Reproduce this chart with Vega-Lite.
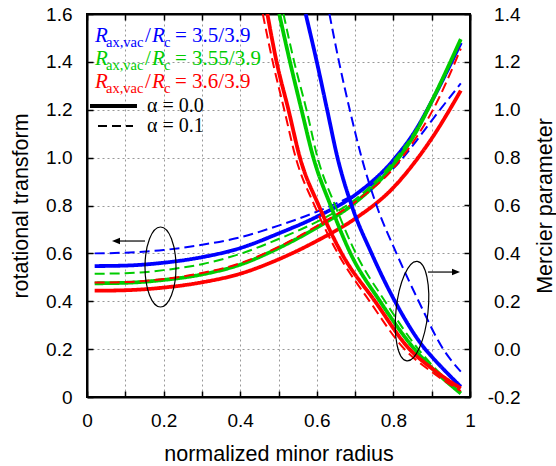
{
  "$schema": "https://vega.github.io/schema/vega-lite/v6.json",
  "width": 383,
  "height": 383,
  "autosize": {"type": "none"},
  "padding": {"left": 87, "top": 14, "right": 86, "bottom": 69},
  "background": "white",
  "datasets": {
    "iota": [
      {"case": "3.5/3.9", "alpha": "0.0", "r": 0.02, "iota": 0.547},
      {"case": "3.5/3.9", "alpha": "0.0", "r": 0.1, "iota": 0.549},
      {"case": "3.5/3.9", "alpha": "0.0", "r": 0.2, "iota": 0.561},
      {"case": "3.5/3.9", "alpha": "0.0", "r": 0.3, "iota": 0.584},
      {"case": "3.5/3.9", "alpha": "0.0", "r": 0.4, "iota": 0.622},
      {"case": "3.5/3.9", "alpha": "0.0", "r": 0.5, "iota": 0.683},
      {"case": "3.5/3.9", "alpha": "0.0", "r": 0.6, "iota": 0.753},
      {"case": "3.5/3.9", "alpha": "0.0", "r": 0.7, "iota": 0.844},
      {"case": "3.5/3.9", "alpha": "0.0", "r": 0.8, "iota": 0.99},
      {"case": "3.5/3.9", "alpha": "0.0", "r": 0.86, "iota": 1.12},
      {"case": "3.5/3.9", "alpha": "0.0", "r": 0.9, "iota": 1.235},
      {"case": "3.5/3.9", "alpha": "0.0", "r": 0.976, "iota": 1.48},
      {"case": "3.5/3.9", "alpha": "0.1", "r": 0.02, "iota": 0.6},
      {"case": "3.5/3.9", "alpha": "0.1", "r": 0.1, "iota": 0.603},
      {"case": "3.5/3.9", "alpha": "0.1", "r": 0.2, "iota": 0.614},
      {"case": "3.5/3.9", "alpha": "0.1", "r": 0.3, "iota": 0.636},
      {"case": "3.5/3.9", "alpha": "0.1", "r": 0.4, "iota": 0.667},
      {"case": "3.5/3.9", "alpha": "0.1", "r": 0.5, "iota": 0.716},
      {"case": "3.5/3.9", "alpha": "0.1", "r": 0.6, "iota": 0.774},
      {"case": "3.5/3.9", "alpha": "0.1", "r": 0.7, "iota": 0.848},
      {"case": "3.5/3.9", "alpha": "0.1", "r": 0.8, "iota": 0.955},
      {"case": "3.5/3.9", "alpha": "0.1", "r": 0.86, "iota": 1.07},
      {"case": "3.5/3.9", "alpha": "0.1", "r": 0.9, "iota": 1.155},
      {"case": "3.5/3.9", "alpha": "0.1", "r": 0.976, "iota": 1.31},
      {"case": "3.55/3.9", "alpha": "0.0", "r": 0.02, "iota": 0.475},
      {"case": "3.55/3.9", "alpha": "0.0", "r": 0.1, "iota": 0.477},
      {"case": "3.55/3.9", "alpha": "0.0", "r": 0.2, "iota": 0.489},
      {"case": "3.55/3.9", "alpha": "0.0", "r": 0.3, "iota": 0.512},
      {"case": "3.55/3.9", "alpha": "0.0", "r": 0.4, "iota": 0.553},
      {"case": "3.55/3.9", "alpha": "0.0", "r": 0.5, "iota": 0.622},
      {"case": "3.55/3.9", "alpha": "0.0", "r": 0.6, "iota": 0.708},
      {"case": "3.55/3.9", "alpha": "0.0", "r": 0.7, "iota": 0.812},
      {"case": "3.55/3.9", "alpha": "0.0", "r": 0.8, "iota": 0.97},
      {"case": "3.55/3.9", "alpha": "0.0", "r": 0.86, "iota": 1.11},
      {"case": "3.55/3.9", "alpha": "0.0", "r": 0.9, "iota": 1.235},
      {"case": "3.55/3.9", "alpha": "0.0", "r": 0.976, "iota": 1.495},
      {"case": "3.55/3.9", "alpha": "0.1", "r": 0.02, "iota": 0.515},
      {"case": "3.55/3.9", "alpha": "0.1", "r": 0.1, "iota": 0.517},
      {"case": "3.55/3.9", "alpha": "0.1", "r": 0.2, "iota": 0.53},
      {"case": "3.55/3.9", "alpha": "0.1", "r": 0.3, "iota": 0.555},
      {"case": "3.55/3.9", "alpha": "0.1", "r": 0.4, "iota": 0.598},
      {"case": "3.55/3.9", "alpha": "0.1", "r": 0.5, "iota": 0.66},
      {"case": "3.55/3.9", "alpha": "0.1", "r": 0.6, "iota": 0.732},
      {"case": "3.55/3.9", "alpha": "0.1", "r": 0.7, "iota": 0.825},
      {"case": "3.55/3.9", "alpha": "0.1", "r": 0.8, "iota": 0.985},
      {"case": "3.55/3.9", "alpha": "0.1", "r": 0.86, "iota": 1.12},
      {"case": "3.55/3.9", "alpha": "0.1", "r": 0.9, "iota": 1.24},
      {"case": "3.55/3.9", "alpha": "0.1", "r": 0.976, "iota": 1.49},
      {"case": "3.6/3.9", "alpha": "0.0", "r": 0.02, "iota": 0.444},
      {"case": "3.6/3.9", "alpha": "0.0", "r": 0.1, "iota": 0.446},
      {"case": "3.6/3.9", "alpha": "0.0", "r": 0.2, "iota": 0.457},
      {"case": "3.6/3.9", "alpha": "0.0", "r": 0.3, "iota": 0.479},
      {"case": "3.6/3.9", "alpha": "0.0", "r": 0.4, "iota": 0.515},
      {"case": "3.6/3.9", "alpha": "0.0", "r": 0.5, "iota": 0.575},
      {"case": "3.6/3.9", "alpha": "0.0", "r": 0.6, "iota": 0.652},
      {"case": "3.6/3.9", "alpha": "0.0", "r": 0.7, "iota": 0.745},
      {"case": "3.6/3.9", "alpha": "0.0", "r": 0.8, "iota": 0.875},
      {"case": "3.6/3.9", "alpha": "0.0", "r": 0.86, "iota": 0.99},
      {"case": "3.6/3.9", "alpha": "0.0", "r": 0.9, "iota": 1.08},
      {"case": "3.6/3.9", "alpha": "0.0", "r": 0.976, "iota": 1.28},
      {"case": "3.6/3.9", "alpha": "0.1", "r": 0.02, "iota": 0.478},
      {"case": "3.6/3.9", "alpha": "0.1", "r": 0.1, "iota": 0.48},
      {"case": "3.6/3.9", "alpha": "0.1", "r": 0.2, "iota": 0.493},
      {"case": "3.6/3.9", "alpha": "0.1", "r": 0.3, "iota": 0.518},
      {"case": "3.6/3.9", "alpha": "0.1", "r": 0.4, "iota": 0.559},
      {"case": "3.6/3.9", "alpha": "0.1", "r": 0.5, "iota": 0.627},
      {"case": "3.6/3.9", "alpha": "0.1", "r": 0.6, "iota": 0.714},
      {"case": "3.6/3.9", "alpha": "0.1", "r": 0.7, "iota": 0.815},
      {"case": "3.6/3.9", "alpha": "0.1", "r": 0.8, "iota": 0.955},
      {"case": "3.6/3.9", "alpha": "0.1", "r": 0.86, "iota": 1.085},
      {"case": "3.6/3.9", "alpha": "0.1", "r": 0.9, "iota": 1.19},
      {"case": "3.6/3.9", "alpha": "0.1", "r": 0.976, "iota": 1.455}
    ],
    "mercier": [
      {"case": "3.5/3.9", "alpha": "0.0", "r": 0.571, "m": 1.4},
      {"case": "3.5/3.9", "alpha": "0.0", "r": 0.6, "m": 1.2},
      {"case": "3.5/3.9", "alpha": "0.0", "r": 0.627, "m": 1.0},
      {"case": "3.5/3.9", "alpha": "0.0", "r": 0.654, "m": 0.8},
      {"case": "3.5/3.9", "alpha": "0.0", "r": 0.691, "m": 0.6},
      {"case": "3.5/3.9", "alpha": "0.0", "r": 0.743, "m": 0.4},
      {"case": "3.5/3.9", "alpha": "0.0", "r": 0.804, "m": 0.2},
      {"case": "3.5/3.9", "alpha": "0.0", "r": 0.883, "m": 0.0},
      {"case": "3.5/3.9", "alpha": "0.0", "r": 0.9, "m": -0.031},
      {"case": "3.5/3.9", "alpha": "0.0", "r": 0.976, "m": -0.157},
      {"case": "3.5/3.9", "alpha": "0.1", "r": 0.633, "m": 1.4},
      {"case": "3.5/3.9", "alpha": "0.1", "r": 0.658, "m": 1.2},
      {"case": "3.5/3.9", "alpha": "0.1", "r": 0.686, "m": 1.0},
      {"case": "3.5/3.9", "alpha": "0.1", "r": 0.717, "m": 0.8},
      {"case": "3.5/3.9", "alpha": "0.1", "r": 0.756, "m": 0.6},
      {"case": "3.5/3.9", "alpha": "0.1", "r": 0.808, "m": 0.4},
      {"case": "3.5/3.9", "alpha": "0.1", "r": 0.866, "m": 0.2},
      {"case": "3.5/3.9", "alpha": "0.1", "r": 0.93, "m": 0.0},
      {"case": "3.5/3.9", "alpha": "0.1", "r": 0.976, "m": -0.094},
      {"case": "3.55/3.9", "alpha": "0.0", "r": 0.502, "m": 1.4},
      {"case": "3.55/3.9", "alpha": "0.0", "r": 0.53, "m": 1.2},
      {"case": "3.55/3.9", "alpha": "0.0", "r": 0.56, "m": 1.0},
      {"case": "3.55/3.9", "alpha": "0.0", "r": 0.591, "m": 0.8},
      {"case": "3.55/3.9", "alpha": "0.0", "r": 0.636, "m": 0.6},
      {"case": "3.55/3.9", "alpha": "0.0", "r": 0.688, "m": 0.4},
      {"case": "3.55/3.9", "alpha": "0.0", "r": 0.765, "m": 0.2},
      {"case": "3.55/3.9", "alpha": "0.0", "r": 0.855, "m": 0.0},
      {"case": "3.55/3.9", "alpha": "0.0", "r": 0.9, "m": -0.078},
      {"case": "3.55/3.9", "alpha": "0.0", "r": 0.976, "m": -0.185},
      {"case": "3.55/3.9", "alpha": "0.1", "r": 0.513, "m": 1.4},
      {"case": "3.55/3.9", "alpha": "0.1", "r": 0.541, "m": 1.2},
      {"case": "3.55/3.9", "alpha": "0.1", "r": 0.573, "m": 1.0},
      {"case": "3.55/3.9", "alpha": "0.1", "r": 0.602, "m": 0.8},
      {"case": "3.55/3.9", "alpha": "0.1", "r": 0.648, "m": 0.6},
      {"case": "3.55/3.9", "alpha": "0.1", "r": 0.702, "m": 0.4},
      {"case": "3.55/3.9", "alpha": "0.1", "r": 0.778, "m": 0.2},
      {"case": "3.55/3.9", "alpha": "0.1", "r": 0.865, "m": 0.0},
      {"case": "3.55/3.9", "alpha": "0.1", "r": 0.9, "m": -0.065},
      {"case": "3.55/3.9", "alpha": "0.1", "r": 0.976, "m": -0.178},
      {"case": "3.6/3.9", "alpha": "0.0", "r": 0.471, "m": 1.4},
      {"case": "3.6/3.9", "alpha": "0.0", "r": 0.495, "m": 1.2},
      {"case": "3.6/3.9", "alpha": "0.0", "r": 0.526, "m": 1.0},
      {"case": "3.6/3.9", "alpha": "0.0", "r": 0.556, "m": 0.8},
      {"case": "3.6/3.9", "alpha": "0.0", "r": 0.605, "m": 0.6},
      {"case": "3.6/3.9", "alpha": "0.0", "r": 0.665, "m": 0.4},
      {"case": "3.6/3.9", "alpha": "0.0", "r": 0.752, "m": 0.2},
      {"case": "3.6/3.9", "alpha": "0.0", "r": 0.842, "m": 0.0},
      {"case": "3.6/3.9", "alpha": "0.0", "r": 0.9, "m": -0.08},
      {"case": "3.6/3.9", "alpha": "0.0", "r": 0.976, "m": -0.164},
      {"case": "3.6/3.9", "alpha": "0.1", "r": 0.459, "m": 1.4},
      {"case": "3.6/3.9", "alpha": "0.1", "r": 0.485, "m": 1.2},
      {"case": "3.6/3.9", "alpha": "0.1", "r": 0.515, "m": 1.0},
      {"case": "3.6/3.9", "alpha": "0.1", "r": 0.545, "m": 0.8},
      {"case": "3.6/3.9", "alpha": "0.1", "r": 0.594, "m": 0.6},
      {"case": "3.6/3.9", "alpha": "0.1", "r": 0.655, "m": 0.4},
      {"case": "3.6/3.9", "alpha": "0.1", "r": 0.738, "m": 0.2},
      {"case": "3.6/3.9", "alpha": "0.1", "r": 0.829, "m": 0.0},
      {"case": "3.6/3.9", "alpha": "0.1", "r": 0.9, "m": -0.095},
      {"case": "3.6/3.9", "alpha": "0.1", "r": 0.976, "m": -0.175}
    ],
    "legendtext": [
      {"case": "3.5/3.9", "lab": "= 3.5/3.9", "row": 0},
      {"case": "3.55/3.9", "lab": "= 3.55/3.9", "row": 1},
      {"case": "3.6/3.9", "lab": "= 3.6/3.9", "row": 2}
    ],
    "one": [{}]
  },
  "config": {
    "view": {"stroke": "black", "strokeWidth": 2},
    "axis": {
      "labelFont": "Liberation Sans",
      "titleFont": "Liberation Sans",
      "labelFontSize": 19,
      "titleFontSize": 21.5,
      "titleFontWeight": "normal",
      "labelColor": "black",
      "titleColor": "black",
      "domainColor": "black",
      "domainWidth": 2,
      "tickColor": "black",
      "tickWidth": 1.5,
      "tickSize": -6,
      "gridColor": "#999999",
      "gridDash": [2, 3],
      "gridWidth": 1,
      "labelFlush": false,
      "labelOverlap": false
    }
  },
  "resolve": {"scale": {"y": "independent"}, "axis": {"x": "independent", "y": "independent"}},
  "layer": [
    {
      "data": {"name": "iota"},
      "mark": {"type": "line", "interpolate": "monotone", "clip": true},
      "encoding": {
        "x": {
          "field": "r", "type": "quantitative",
          "scale": {"domain": [0, 1], "nice": false, "zero": false},
          "axis": {
            "orient": "bottom",
            "values": [0, 0.1, 0.2, 0.3, 0.4, 0.5, 0.6, 0.7, 0.8, 0.9, 1.0],
            "labelExpr": "round(datum.value*10) % 2 == 0 ? format(datum.value, '~g') : ''",
            "title": "normalized minor radius",
            "grid": true,
            "labelPadding": 20,
            "titleY": 63,
            "titleBaseline": "alphabetic"
          }
        },
        "y": {
          "field": "iota", "type": "quantitative",
          "scale": {"domain": [0, 1.6], "nice": false, "zero": false},
          "axis": {
            "orient": "left",
            "values": [0, 0.2, 0.4, 0.6, 0.8, 1.0, 1.2, 1.4, 1.6],
            "labelExpr": "datum.value == 0 ? '0' : format(datum.value, '.1f')",
            "title": "rotational transform",
            "grid": true,
            "labelPadding": 21,
            "titleX": -66,
            "titleY": 191.5,
            "titleAngle": 270,
            "titleBaseline": "middle",
            "titleAlign": "center"
          }
        },
        "color": {
          "field": "case", "type": "nominal",
          "scale": {"domain": ["3.5/3.9", "3.55/3.9", "3.6/3.9"], "range": ["#0000ff", "#00cc00", "#ff0000"]},
          "legend": null
        },
        "strokeDash": {
          "field": "alpha", "type": "nominal",
          "scale": {"domain": ["0.0", "0.1"], "range": [[1, 0], [10, 5]]},
          "legend": null
        },
        "strokeWidth": {
          "field": "alpha", "type": "nominal",
          "scale": {"domain": ["0.0", "0.1"], "range": [3.8, 2]},
          "legend": null
        }
      }
    },
    {
      "data": {"name": "mercier"},
      "mark": {"type": "line", "interpolate": "monotone", "clip": true},
      "encoding": {
        "x": {
          "field": "r", "type": "quantitative",
          "axis": {
            "orient": "top",
            "values": [0, 0.1, 0.2, 0.3, 0.4, 0.5, 0.6, 0.7, 0.8, 0.9, 1.0],
            "labels": false,
            "title": null,
            "grid": false
          }
        },
        "y": {
          "field": "m", "type": "quantitative",
          "scale": {"domain": [-0.2, 1.4], "nice": false, "zero": false},
          "axis": {
            "orient": "right",
            "values": [-0.2, 0, 0.2, 0.4, 0.6, 0.8, 1.0, 1.2, 1.4],
            "labelExpr": "replace(format(datum.value, '.1f'), '\u2212', '-')",
            "title": "Mercier parameter",
            "grid": false,
            "labelAlign": "right",
            "labelPadding": 56,
            "titleX": 75,
            "titleY": 191.5,
            "titleAngle": 270,
            "titleBaseline": "middle",
            "titleAlign": "center"
          }
        },
        "color": {
          "field": "case", "type": "nominal",
          "scale": {"domain": ["3.5/3.9", "3.55/3.9", "3.6/3.9"], "range": ["#0000ff", "#00cc00", "#ff0000"]},
          "legend": null
        },
        "strokeDash": {
          "field": "alpha", "type": "nominal",
          "scale": {"domain": ["0.0", "0.1"], "range": [[1, 0], [10, 5]]},
          "legend": null
        },
        "strokeWidth": {
          "field": "alpha", "type": "nominal",
          "scale": {"domain": ["0.0", "0.1"], "range": [3.8, 2]},
          "legend": null
        }
      }
    },
    {
      "data": {"name": "legendtext"},
      "layer": [
        {"mark": {"type": "text", "font": "Liberation Serif", "fontStyle": "italic", "fontSize": 21, "align": "left", "baseline": "alphabetic"},
         "encoding": {"text": {"value": "R"}}},
        {"mark": {"type": "text", "font": "Liberation Serif", "fontSize": 14.5, "align": "left", "baseline": "alphabetic", "dx": 11, "dy": 5},
         "encoding": {"text": {"value": "ax,vac"}}},
        {"mark": {"type": "text", "font": "Liberation Serif", "fontSize": 21, "align": "left", "baseline": "alphabetic", "dx": 50},
         "encoding": {"text": {"value": "/"}}},
        {"mark": {"type": "text", "font": "Liberation Serif", "fontStyle": "italic", "fontSize": 21, "align": "left", "baseline": "alphabetic", "dx": 57},
         "encoding": {"text": {"value": "R"}}},
        {"mark": {"type": "text", "font": "Liberation Serif", "fontSize": 14.5, "align": "left", "baseline": "alphabetic", "dx": 69, "dy": 5},
         "encoding": {"text": {"value": "c"}}},
        {"mark": {"type": "text", "font": "Liberation Serif", "fontSize": 21, "align": "left", "baseline": "alphabetic", "dx": 80},
         "encoding": {"text": {"field": "lab"}}}
      ],
      "encoding": {
        "x": {"datum": 0.0209, "type": "quantitative", "axis": null},
        "y": {"field": "row", "type": "quantitative", "scale": {"domain": [0, 2], "range": [28, 73.5], "zero": false, "nice": false}, "axis": null},
        "color": {"field": "case", "type": "nominal", "scale": {"domain": ["3.5/3.9", "3.55/3.9", "3.6/3.9"], "range": ["#0000ff", "#00cc00", "#ff0000"]}, "legend": null}
      }
    },
    {
      "data": {"name": "one"},
      "layer": [
        {"mark": {"type": "rule", "color": "black", "strokeWidth": 4},
         "encoding": {"x": {"datum": 0.0078, "type": "quantitative", "axis": null}, "x2": {"datum": 0.1305}, "y": {"datum": 1.2155, "type": "quantitative"}}},
        {"mark": {"type": "rule", "color": "black", "strokeWidth": 2, "strokeDash": [9, 5]},
         "encoding": {"x": {"datum": 0.0287, "type": "quantitative", "axis": null}, "x2": {"datum": 0.1201}, "y": {"datum": 1.132, "type": "quantitative"}}},
        {"mark": {"type": "text", "font": "Liberation Serif", "fontSize": 20, "align": "left", "baseline": "alphabetic", "color": "black"},
         "encoding": {"x": {"datum": 0.1567, "type": "quantitative", "axis": null}, "y": {"datum": 1.1905, "type": "quantitative"}, "text": {"value": "α = 0.0"}}},
        {"mark": {"type": "text", "font": "Liberation Serif", "fontSize": 20, "align": "left", "baseline": "alphabetic", "color": "black"},
         "encoding": {"x": {"datum": 0.1567, "type": "quantitative", "axis": null}, "y": {"datum": 1.1069, "type": "quantitative"}, "text": {"value": "α = 0.1"}}},
        {"mark": {"type": "point", "shape": "M0,-1A0.3875,1,0,1,1,0,1A0.3875,1,0,1,1,0,-1Z", "size": 6400, "filled": false, "stroke": "black", "strokeWidth": 1.2, "opacity": 1},
         "encoding": {"x": {"datum": 0.1919, "type": "quantitative", "axis": null}, "y": {"datum": 0.543, "type": "quantitative"}}},
        {"mark": {"type": "point", "shape": "M0,-1A0.32,1,0,1,1,0,1A0.32,1,0,1,1,0,-1Z", "size": 10000, "filled": false, "stroke": "black", "strokeWidth": 1.2, "opacity": 1, "angle": 6},
         "encoding": {"x": {"datum": 0.8486, "type": "quantitative", "axis": null}, "y": {"datum": 0.359, "type": "quantitative"}}},
        {"mark": {"type": "rule", "color": "black", "strokeWidth": 1.2},
         "encoding": {"x": {"datum": 0.1514, "type": "quantitative", "axis": null}, "x2": {"datum": 0.075}, "y": {"datum": 0.6516, "type": "quantitative"}}},
        {"mark": {"type": "point", "shape": "M0,0L2,-0.8L2,0.8Z", "size": 64, "filled": true, "color": "black", "opacity": 1, "strokeWidth": 0},
         "encoding": {"x": {"datum": 0.0653, "type": "quantitative", "axis": null}, "y": {"datum": 0.6516, "type": "quantitative"}}},
        {"mark": {"type": "rule", "color": "black", "strokeWidth": 1.2},
         "encoding": {"x": {"datum": 0.8903, "type": "quantitative", "axis": null}, "x2": {"datum": 0.965}, "y": {"datum": 0.522, "type": "quantitative"}}},
        {"mark": {"type": "point", "shape": "M0,0L-2,-0.8L-2,0.8Z", "size": 64, "filled": true, "color": "black", "opacity": 1, "strokeWidth": 0},
         "encoding": {"x": {"datum": 0.9739, "type": "quantitative", "axis": null}, "y": {"datum": 0.522, "type": "quantitative"}}}
      ],
      "encoding": {
        "y": {"type": "quantitative", "scale": {"domain": [0, 1.6], "nice": false, "zero": false}, "axis": null}
      }
    }
  ]
}
